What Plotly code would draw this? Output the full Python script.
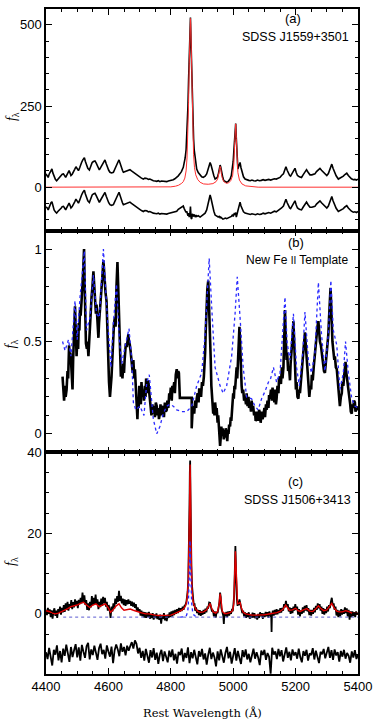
import plotly.graph_objects as go

# ---------------------------------------------------------------------------
# data: (rest wavelength [A], f_lambda)
# ---------------------------------------------------------------------------

# (a) SDSS J1559+3501 : spectrum, Hbeta/[OIII] model, residual (offset)
A_SPEC = [
    (4400, 41), (4404, 36), (4407, 30), (4410, 40), (4413, 46), (4416, 52), (4419, 56), (4422, 44),
    (4426, 30), (4430, 24), (4434, 20), (4438, 25), (4442, 28), (4445, 31), (4449, 36), (4452, 40),
    (4456, 41), (4460, 35), (4463, 30), (4467, 38), (4471, 46), (4474, 51), (4477, 44), (4480, 36),
    (4484, 40), (4488, 46), (4492, 55), (4496, 63), (4500, 58), (4504, 51), (4508, 60), (4511, 70),
    (4514, 76), (4518, 84), (4521, 90), (4523, 91), (4526, 80), (4530, 66), (4534, 58), (4539, 53),
    (4543, 63), (4548, 76), (4552, 79), (4557, 81), (4561, 74), (4565, 66), (4568, 58), (4571, 53),
    (4576, 62), (4581, 71), (4585, 78), (4589, 84), (4593, 72), (4597, 61), (4601, 52), (4605, 46),
    (4610, 44), (4616, 46), (4621, 55), (4626, 66), (4630, 76), (4634, 84), (4637, 74), (4641, 62),
    (4645, 52), (4648, 46), (4653, 48), (4659, 51), (4664, 52), (4669, 54), (4674, 50), (4680, 46),
    (4685, 40), (4691, 36), (4696, 33), (4701, 30), (4706, 28), (4712, 25), (4717, 28), (4723, 27),
    (4728, 24), (4733, 25), (4738, 22), (4744, 20), (4750, 19), (4755, 18), (4760, 20), (4765, 17),
    (4770, 19), (4776, 18), (4781, 16), (4787, 17), (4792, 19), (4797, 20), (4802, 22), (4808, 23),
    (4813, 26), (4819, 30), (4824, 35), (4829, 41), (4834, 48), (4840, 61), (4843, 72), (4846, 90),
    (4849, 115), (4851, 147), (4853, 190), (4855, 250), (4857, 330), (4859, 420), (4861, 493),
    (4863, 523), (4865, 440), (4867, 350), (4869, 260), (4871, 200), (4873, 150), (4875, 115),
    (4878, 86), (4881, 68), (4883, 56), (4888, 45), (4894, 36), (4899, 32), (4904, 30), (4910, 34),
    (4915, 41), (4919, 52), (4922, 65), (4926, 76), (4929, 68), (4932, 55), (4934, 46), (4938, 35),
    (4942, 25), (4946, 27), (4949, 30), (4952, 38), (4955, 52), (4958, 68), (4960, 62), (4963, 41),
    (4967, 28), (4970, 20), (4975, 17), (4979, 15), (4984, 18), (4990, 25), (4994, 36), (4997, 56),
    (5000, 80), (5002, 110), (5004, 147), (5006, 180), (5008, 196), (5010, 150), (5011, 117),
    (5013, 80), (5015, 56), (5018, 65), (5020, 74), (5022, 76), (5025, 60), (5029, 41), (5033, 32),
    (5038, 25), (5044, 22), (5050, 21), (5055, 20), (5060, 22), (5066, 20), (5072, 19), (5078, 22),
    (5084, 20), (5090, 21), (5096, 23), (5102, 21), (5108, 22), (5114, 24), (5120, 22), (5126, 24),
    (5132, 26), (5138, 25), (5144, 28), (5150, 30), (5155, 36), (5161, 41), (5165, 52), (5169, 63),
    (5173, 52), (5177, 41), (5181, 36), (5184, 34), (5188, 40), (5193, 50), (5198, 58), (5202, 45),
    (5206, 36), (5212, 32), (5219, 30), (5224, 38), (5230, 47), (5235, 54), (5240, 46), (5246, 38),
    (5252, 38), (5257, 40), (5262, 41), (5267, 48), (5272, 54), (5278, 58), (5283, 52), (5289, 46),
    (5294, 40), (5300, 36), (5305, 42), (5310, 55), (5313, 65), (5316, 71), (5320, 58), (5324, 46),
    (5330, 35), (5337, 25), (5342, 28), (5348, 30), (5353, 34), (5358, 39), (5364, 43), (5369, 36),
    (5374, 30), (5379, 26), (5385, 23), (5390, 24), (5395, 22), (5400, 25),
]

A_MODEL = [
    (4400, 0), (4780, 0), (4800, 1), (4815, 3), (4825, 6), (4835, 12), (4840, 17), (4845, 28),
    (4849, 50), (4852, 90), (4855, 170), (4857, 260), (4859, 380), (4861, 480), (4862, 515),
    (4863, 520), (4864, 500), (4866, 400), (4868, 280), (4870, 180), (4873, 100), (4876, 60),
    (4880, 38), (4886, 24), (4894, 15), (4905, 10), (4920, 9), (4935, 11), (4945, 17), (4950, 25),
    (4953, 36), (4956, 52), (4958, 64), (4960, 58), (4962, 42), (4965, 28), (4970, 17), (4978, 12),
    (4985, 13), (4992, 20), (4998, 35), (5002, 70), (5005, 140), (5007, 190), (5008, 195),
    (5010, 150), (5012, 90), (5015, 45), (5020, 22), (5028, 10), (5040, 4), (5060, 1), (5080, 0),
    (5400, 0),
]

A_RESID = [
    (4400, -61), (4404, -64), (4407, -70), (4410, -60), (4413, -54), (4416, -48), (4419, -45),
    (4422, -56), (4426, -70), (4430, -76), (4434, -80), (4438, -75), (4442, -72), (4445, -69),
    (4449, -64), (4452, -60), (4456, -59), (4460, -65), (4463, -70), (4467, -62), (4471, -54),
    (4474, -49), (4477, -56), (4480, -64), (4484, -60), (4488, -54), (4492, -45), (4496, -37),
    (4500, -42), (4504, -49), (4508, -40), (4511, -30), (4514, -24), (4518, -16), (4521, -10),
    (4523, -9), (4526, -20), (4530, -34), (4534, -42), (4539, -47), (4543, -37), (4548, -24),
    (4552, -21), (4557, -19), (4561, -26), (4565, -34), (4568, -42), (4571, -47), (4576, -38),
    (4581, -29), (4585, -22), (4589, -16), (4593, -28), (4597, -39), (4601, -48), (4605, -54),
    (4610, -56), (4616, -54), (4621, -45), (4626, -34), (4630, -24), (4634, -16), (4637, -26),
    (4641, -38), (4645, -48), (4648, -54), (4653, -52), (4659, -49), (4664, -48), (4669, -46),
    (4674, -50), (4680, -54), (4685, -60), (4691, -64), (4696, -67), (4701, -70), (4706, -72),
    (4712, -75), (4717, -72), (4723, -73), (4728, -76), (4733, -75), (4738, -78), (4744, -80),
    (4750, -81), (4755, -82), (4760, -80), (4765, -83), (4770, -81), (4776, -82), (4781, -84),
    (4787, -83), (4792, -81), (4797, -80), (4802, -79), (4808, -78), (4813, -76), (4819, -74),
    (4824, -68), (4829, -65), (4834, -62), (4840, -58), (4843, -66), (4846, -70), (4849, -78),
    (4851, -74), (4853, -86), (4855, -88), (4857, -80), (4859, -92), (4861, -85), (4863, -60),
    (4865, -95), (4867, -98), (4869, -82), (4871, -90), (4873, -88), (4875, -84), (4878, -92),
    (4881, -86), (4883, -90), (4888, -88), (4894, -92), (4899, -88), (4904, -84), (4910, -80),
    (4915, -70), (4919, -55), (4922, -38), (4926, -24), (4929, -35), (4932, -52), (4934, -62),
    (4938, -74), (4942, -86), (4946, -88), (4949, -90), (4952, -92), (4955, -90), (4958, -94),
    (4960, -92), (4963, -96), (4967, -98), (4970, -97), (4975, -95), (4979, -97), (4984, -95),
    (4990, -92), (4994, -90), (4997, -86), (5000, -90), (5002, -84), (5004, -80), (5006, -86),
    (5008, -78), (5010, -92), (5011, -88), (5013, -84), (5015, -72), (5018, -60), (5020, -50),
    (5022, -46), (5025, -58), (5029, -70), (5033, -76), (5038, -80), (5044, -82), (5050, -83),
    (5055, -84), (5060, -82), (5066, -84), (5072, -85), (5078, -82), (5084, -84), (5090, -83),
    (5096, -80), (5102, -82), (5108, -81), (5114, -78), (5120, -80), (5126, -77), (5132, -74),
    (5138, -76), (5144, -72), (5150, -70), (5155, -64), (5161, -58), (5165, -48), (5169, -37),
    (5173, -48), (5177, -59), (5181, -64), (5184, -66), (5188, -60), (5193, -50), (5198, -42),
    (5202, -55), (5206, -64), (5212, -68), (5219, -70), (5224, -62), (5230, -53), (5235, -46),
    (5240, -54), (5246, -62), (5252, -62), (5257, -60), (5262, -59), (5267, -52), (5272, -46),
    (5278, -42), (5283, -48), (5289, -54), (5294, -60), (5300, -64), (5305, -58), (5310, -45),
    (5313, -35), (5316, -29), (5320, -42), (5324, -54), (5330, -65), (5337, -75), (5342, -72),
    (5348, -70), (5353, -66), (5358, -61), (5364, -57), (5369, -64), (5374, -70), (5379, -74),
    (5385, -77), (5390, -76), (5395, -78), (5400, -75),
]

# (b) normalised Fe II emission (black) vs new Fe II template (blue dotted)
B_FEII = [
    (4453, 0.31), (4455, 0.22), (4458, 0.18), (4461, 0.26), (4463, 0.20), (4466, 0.24), (4469, 0.34),
    (4471, 0.30), (4474, 0.48), (4476, 0.40), (4478, 0.44), (4480, 0.40), (4482, 0.30), (4485, 0.24),
    (4487, 0.40), (4489, 0.52), (4491, 0.62), (4493, 0.69), (4495, 0.58), (4498, 0.42), (4500, 0.50),
    (4503, 0.46), (4505, 0.60), (4507, 0.56), (4509, 0.67), (4511, 0.64), (4514, 0.72), (4516, 0.76),
    (4518, 0.84), (4520, 0.92), (4522, 1.00), (4524, 0.80), (4526, 0.60), (4528, 0.49), (4531, 0.46),
    (4533, 0.50), (4536, 0.42), (4538, 0.50), (4540, 0.56), (4543, 0.61), (4546, 0.74), (4549, 0.80),
    (4552, 0.88), (4554, 0.82), (4557, 0.74), (4560, 0.65), (4562, 0.70), (4565, 0.56), (4568, 0.52),
    (4570, 0.60), (4573, 0.66), (4575, 0.72), (4578, 0.80), (4581, 0.86), (4584, 0.94), (4586, 0.88),
    (4589, 0.80), (4591, 0.76), (4594, 0.72), (4596, 0.60), (4598, 0.46), (4600, 0.36), (4602, 0.28),
    (4605, 0.20), (4607, 0.24), (4610, 0.31), (4613, 0.42), (4616, 0.54), (4618, 0.60), (4621, 0.63),
    (4623, 0.58), (4626, 0.80), (4629, 0.93), (4631, 0.82), (4633, 0.70), (4635, 0.60), (4637, 0.46),
    (4640, 0.31), (4642, 0.36), (4645, 0.30), (4648, 0.38), (4650, 0.33), (4652, 0.40), (4654, 0.45),
    (4656, 0.49), (4659, 0.47), (4661, 0.52), (4664, 0.54), (4666, 0.50), (4668, 0.49), (4671, 0.45),
    (4673, 0.40), (4676, 0.36), (4678, 0.33), (4680, 0.40), (4683, 0.30), (4685, 0.35), (4687, 0.27),
    (4690, 0.20), (4693, 0.08), (4695, 0.18), (4697, 0.14), (4699, 0.26), (4701, 0.22), (4704, 0.16),
    (4706, 0.28), (4709, 0.20), (4712, 0.24), (4714, 0.18), (4717, 0.26), (4719, 0.20), (4721, 0.30),
    (4723, 0.28), (4726, 0.22), (4728, 0.29), (4730, 0.24), (4733, 0.18), (4735, 0.15), (4738, 0.10),
    (4741, 0.16), (4744, 0.11), (4746, 0.15), (4749, 0.09), (4752, 0.17), (4755, 0.15), (4757, 0.10),
    (4760, 0.14), (4762, 0.08), (4765, 0.11), (4767, 0.16), (4770, 0.10), (4773, 0.14), (4776, 0.15),
    (4778, 0.09), (4781, 0.17), (4784, 0.12), (4787, 0.13), (4789, 0.18), (4792, 0.14), (4795, 0.22),
    (4797, 0.19), (4800, 0.25), (4803, 0.18), (4805, 0.26), (4808, 0.24), (4811, 0.28), (4813, 0.22),
    (4816, 0.32), (4819, 0.35), (4822, 0.30), (4824, 0.34), (4826, 0.33), (4828, 0.26), (4829, 0.195),
    (4867, 0.195), (4867, 0.03), (4869, 0.10), (4872, 0.15), (4875, 0.11), (4878, 0.18), (4881, 0.14),
    (4883, 0.19), (4886, 0.22), (4889, 0.17), (4891, 0.24), (4894, 0.24), (4897, 0.20), (4900, 0.28),
    (4903, 0.26), (4906, 0.31), (4908, 0.36), (4910, 0.44), (4912, 0.56), (4915, 0.72), (4917, 0.78),
    (4920, 0.83), (4922, 0.74), (4924, 0.62), (4926, 0.54), (4928, 0.40), (4930, 0.26), (4932, 0.18),
    (4934, 0.14), (4936, 0.11), (4938, 0.16), (4940, 0.10), (4942, 0.17), (4945, 0.12), (4947, 0.14),
    (4950, 0.06), (4952, 0.10), (4954, 0.02), (4956, 0.00), (4958, -0.065), (4960, -0.02), (4962, 0.04),
    (4964, -0.01), (4966, 0.03), (4968, 0.007), (4970, -0.03), (4972, 0.02), (4974, -0.02), (4976, 0.03),
    (4979, 0.007), (4981, -0.04), (4983, 0.02), (4985, 0.00), (4987, 0.05), (4990, 0.04), (4992, 0.09),
    (4994, 0.07), (4996, 0.14), (4998, 0.18), (5000, 0.22), (5002, 0.19), (5004, 0.26), (5006, 0.24),
    (5009, 0.32), (5011, 0.36), (5013, 0.30), (5015, 0.40), (5017, 0.50), (5020, 0.58), (5022, 0.50),
    (5024, 0.36), (5027, 0.26), (5029, 0.22), (5032, 0.24), (5035, 0.18), (5038, 0.20), (5041, 0.16),
    (5043, 0.22), (5046, 0.15), (5049, 0.20), (5051, 0.14), (5054, 0.17), (5057, 0.12), (5059, 0.18),
    (5062, 0.13), (5064, 0.15), (5067, 0.10), (5070, 0.12), (5072, 0.07), (5075, 0.08), (5078, 0.12),
    (5080, 0.07), (5083, 0.13), (5086, 0.11), (5088, 0.06), (5091, 0.12), (5094, 0.08), (5097, 0.10),
    (5100, 0.14), (5102, 0.09), (5105, 0.16), (5107, 0.13), (5110, 0.18), (5113, 0.14), (5115, 0.21),
    (5118, 0.19), (5121, 0.24), (5124, 0.18), (5126, 0.25), (5129, 0.22), (5132, 0.17), (5134, 0.24),
    (5137, 0.16), (5139, 0.19), (5142, 0.26), (5145, 0.22), (5147, 0.30), (5150, 0.31), (5153, 0.27),
    (5156, 0.36), (5158, 0.30), (5161, 0.36), (5163, 0.50), (5166, 0.67), (5168, 0.55), (5171, 0.40),
    (5173, 0.44), (5176, 0.34), (5179, 0.36), (5182, 0.29), (5184, 0.38), (5187, 0.44), (5190, 0.52),
    (5193, 0.61), (5195, 0.50), (5198, 0.36), (5201, 0.24), (5203, 0.28), (5206, 0.20), (5209, 0.19),
    (5211, 0.24), (5214, 0.22), (5217, 0.28), (5219, 0.31), (5222, 0.38), (5225, 0.44), (5227, 0.50),
    (5230, 0.55), (5232, 0.50), (5235, 0.42), (5238, 0.36), (5240, 0.30), (5242, 0.24), (5244, 0.20),
    (5247, 0.26), (5250, 0.24), (5252, 0.32), (5255, 0.29), (5258, 0.36), (5260, 0.40), (5262, 0.45),
    (5265, 0.52), (5268, 0.56), (5270, 0.58), (5273, 0.61), (5275, 0.56), (5278, 0.50), (5281, 0.48),
    (5283, 0.45), (5286, 0.40), (5289, 0.36), (5291, 0.34), (5294, 0.33), (5297, 0.38), (5300, 0.44),
    (5302, 0.48), (5305, 0.54), (5307, 0.62), (5309, 0.70), (5312, 0.79), (5314, 0.70), (5316, 0.58),
    (5318, 0.50), (5321, 0.45), (5324, 0.40), (5326, 0.42), (5329, 0.36), (5332, 0.35), (5334, 0.30),
    (5337, 0.24), (5340, 0.18), (5342, 0.15), (5345, 0.20), (5348, 0.22), (5350, 0.28), (5353, 0.26),
    (5355, 0.30), (5358, 0.36), (5360, 0.39), (5362, 0.34), (5365, 0.30), (5367, 0.28), (5369, 0.26),
    (5372, 0.20), (5375, 0.16), (5377, 0.12), (5380, 0.11), (5382, 0.16), (5385, 0.14), (5387, 0.18),
    (5390, 0.17), (5392, 0.12), (5395, 0.15), (5397, 0.13), (5400, 0.14),
]

B_TEMPLATE = [
    (4453, 0.50), (4461, 0.45), (4472, 0.51), (4480, 0.42), (4493, 0.72), (4500, 0.51), (4509, 0.74),
    (4518, 0.90), (4523, 0.99), (4530, 0.56), (4541, 0.63), (4552, 0.86), (4562, 0.65), (4571, 0.63),
    (4584, 1.00), (4594, 0.70), (4608, 0.36), (4616, 0.60), (4626, 0.81), (4635, 0.51), (4643, 0.38),
    (4653, 0.47), (4666, 0.57), (4675, 0.40), (4680, 0.17), (4688, 0.13), (4701, 0.15), (4714, 0.10),
    (4723, 0.28), (4731, 0.32), (4739, 0.19), (4744, 0.08), (4755, 0.00), (4765, 0.04), (4776, 0.11),
    (4787, 0.15), (4797, 0.16), (4808, 0.15), (4819, 0.13), (4835, 0.12), (4851, 0.12), (4867, 0.15),
    (4883, 0.26), (4899, 0.33), (4910, 0.54), (4917, 0.81), (4923, 0.95), (4931, 0.69), (4942, 0.36),
    (4958, 0.26), (4968, 0.22), (4979, 0.26), (4995, 0.42), (5006, 0.65), (5013, 0.85), (5022, 0.63),
    (5032, 0.36), (5043, 0.20), (5059, 0.19), (5070, 0.15), (5080, 0.13), (5091, 0.19), (5102, 0.23),
    (5113, 0.28), (5120, 0.30), (5129, 0.36), (5139, 0.28), (5150, 0.33), (5158, 0.54), (5166, 0.74),
    (5173, 0.49), (5182, 0.40), (5193, 0.65), (5203, 0.36), (5212, 0.26), (5223, 0.44), (5230, 0.66),
    (5241, 0.40), (5251, 0.33), (5262, 0.44), (5273, 0.82), (5283, 0.54), (5294, 0.34), (5305, 0.54),
    (5313, 0.83), (5321, 0.56), (5332, 0.48), (5342, 0.24), (5353, 0.33), (5360, 0.50), (5369, 0.33),
    (5380, 0.19), (5390, 0.15), (5400, 0.14),
]

# (c) SDSS J1506+3413 : spectrum, full model, Hbeta component, residual (offset)
C_SPEC = [
    (4400, 1.0), (4403, -0.3), (4406, 1.5), (4409, 0.2), (4412, 1.1), (4415, -0.8), (4418, 0.9),
    (4421, -1.2), (4424, 0.6), (4427, 1.4), (4430, -0.5), (4433, 0.8), (4436, -1.0), (4439, 1.2),
    (4442, 0.3), (4445, 1.8), (4448, -0.2), (4451, 1.5), (4454, 0.4), (4457, 2.2), (4460, 0.5),
    (4463, 2.6), (4466, 1.0), (4469, 3.0), (4472, 0.8), (4475, 2.4), (4478, 1.5), (4481, 3.4),
    (4484, 1.2), (4487, 2.9), (4490, 1.6), (4493, 3.6), (4496, 2.0), (4499, 3.2), (4502, 1.4),
    (4505, 3.5), (4508, 2.4), (4511, 4.0), (4514, 2.6), (4517, 5.3), (4520, 3.0), (4523, 4.6),
    (4526, 2.2), (4529, 3.4), (4532, 1.0), (4535, 2.6), (4538, 0.9), (4541, 3.0), (4544, 1.6),
    (4547, 4.4), (4550, 2.2), (4553, 4.0), (4556, 2.5), (4559, 4.8), (4562, 2.3), (4565, 3.6),
    (4568, 1.2), (4571, 3.0), (4574, 1.7), (4577, 3.8), (4580, 2.0), (4583, 4.2), (4586, 2.6),
    (4589, 4.0), (4592, 1.8), (4595, 3.0), (4598, 0.8), (4601, 2.2), (4604, 1.0), (4607, -1.0),
    (4610, 1.8), (4613, 0.6), (4616, 2.6), (4619, 1.3), (4622, 3.8), (4625, 2.5), (4628, 4.4),
    (4631, 3.0), (4634, 5.7), (4637, 3.2), (4640, 4.5), (4643, 2.6), (4646, 3.8), (4649, 2.2),
    (4652, 3.6), (4655, 2.0), (4658, 3.4), (4661, 2.4), (4664, 3.6), (4667, 2.5), (4670, 3.2),
    (4673, 2.0), (4676, 3.0), (4679, 1.8), (4682, 2.8), (4685, 1.5), (4688, 2.4), (4691, 0.8),
    (4694, 1.6), (4697, 0.6), (4700, 1.2), (4703, -0.4), (4706, 0.8), (4709, -0.6), (4712, 0.5),
    (4715, -0.9), (4718, 0.4), (4721, -1.0), (4724, 0.3), (4727, -0.8), (4730, 0.5), (4733, -1.2),
    (4736, 0.0), (4739, -1.0), (4742, 0.2), (4745, -1.4), (4748, -0.2), (4751, -1.0), (4754, 0.1),
    (4757, -1.3), (4760, -0.3), (4763, -1.5), (4766, -0.2), (4769, -2.4), (4772, -0.6), (4775, -1.2),
    (4778, 0.2), (4781, -1.6), (4784, -0.4), (4787, -1.8), (4790, -0.2), (4793, -1.0), (4796, 0.4),
    (4799, -0.8), (4802, 0.6), (4805, -0.6), (4808, 0.8), (4811, -0.3), (4814, 1.0), (4817, 0.0),
    (4820, 1.2), (4823, 0.2), (4826, 1.5), (4829, 0.5), (4832, 1.4), (4835, 0.7), (4838, 1.8),
    (4841, 1.0), (4844, 2.0), (4847, 2.2), (4850, 3.0), (4852, 4.0), (4854, 5.5), (4856, 8.5),
    (4858, 15), (4859, 20), (4860, 27), (4861, 35), (4862, 38), (4863, 30), (4864, 21), (4865, 15),
    (4866, 12), (4868, 7), (4870, 4), (4872, 3.5), (4874, 2.0), (4876, 2.6), (4878, 0.8), (4881, 1.6),
    (4884, 0.2), (4887, 1.0), (4890, -0.3), (4893, 0.9), (4896, -0.5), (4899, 0.7), (4902, -0.2),
    (4905, 1.0), (4908, 0.0), (4911, 1.3), (4914, 0.4), (4917, 1.6), (4920, 1.5), (4923, 2.8),
    (4926, 2.7), (4929, 1.4), (4932, 0.6), (4935, 1.0), (4938, -0.6), (4941, 0.6), (4944, -0.9),
    (4947, 0.5), (4950, 0.2), (4953, 1.5), (4956, 3.0), (4958, 5.3), (4960, 4.2), (4962, 1.5),
    (4965, 0.4), (4968, -0.4), (4970, -2.5), (4972, 0.3), (4975, -0.6), (4978, 0.5), (4981, -0.8),
    (4984, 0.6), (4987, -0.4), (4990, 0.7), (4993, 0.0), (4996, 1.0), (4999, 0.9), (5001, 2.2),
    (5003, 4.5), (5005, 10), (5006, 14), (5007, 16.8), (5008, 14), (5009, 10), (5010, 6), (5012, 3.5),
    (5014, 2.0), (5016, 3.2), (5018, 2.2), (5020, 3.6), (5022, 2.9), (5024, 2.0), (5026, 1.2),
    (5029, 0.2), (5032, 0.8), (5035, -0.6), (5038, 0.4), (5041, -1.0), (5044, 0.2), (5047, -0.8),
    (5050, 0.4), (5053, -1.2), (5056, -0.2), (5059, -1.0), (5062, 0.3), (5065, -0.9), (5068, 0.2),
    (5071, -1.1), (5074, -0.3), (5077, -1.4), (5080, 0.0), (5083, -1.0), (5086, 0.4), (5089, -0.6),
    (5092, 0.2), (5095, -1.2), (5098, 0.1), (5101, -0.8), (5104, 0.5), (5107, -0.6), (5110, 0.4),
    (5113, -0.9), (5116, 0.6), (5119, -0.4), (5122, -0.9), (5123, -4.5), (5124, -0.5), (5127, 0.8),
    (5130, -0.4), (5133, 1.0), (5136, -0.2), (5139, 1.2), (5142, -0.1), (5145, 1.0), (5148, 0.2),
    (5151, 1.4), (5154, 0.3), (5157, 1.5), (5160, 0.8), (5163, 2.4), (5166, 1.6), (5169, 3.2),
    (5172, 1.8), (5175, 2.4), (5178, 0.6), (5181, 1.6), (5184, 0.0), (5187, 1.4), (5190, 0.2),
    (5193, 1.8), (5196, 0.8), (5199, 2.4), (5202, 1.0), (5205, 1.8), (5208, -0.2), (5211, 1.2),
    (5214, -0.6), (5217, 0.9), (5220, 0.0), (5223, 1.6), (5226, 0.3), (5229, 2.0), (5232, 0.8),
    (5235, 2.2), (5238, 0.6), (5241, 1.4), (5244, -0.3), (5247, 1.0), (5250, -0.4), (5253, 1.0),
    (5256, 0.0), (5259, 1.5), (5262, 0.4), (5265, 2.0), (5268, 1.0), (5271, 2.6), (5274, 1.4),
    (5277, 2.4), (5280, 0.8), (5283, 1.8), (5286, 0.0), (5289, 1.4), (5292, -0.2), (5295, 1.2),
    (5298, 0.2), (5301, 1.8), (5304, 0.6), (5307, 2.2), (5310, 1.4), (5313, 3.0), (5316, 4.0),
    (5319, 2.2), (5322, 2.6), (5325, 1.0), (5328, 1.8), (5331, -0.4), (5334, 1.0), (5337, -0.8),
    (5340, 0.8), (5343, -0.6), (5346, 1.2), (5349, -0.2), (5352, 1.0), (5355, 0.0), (5358, 1.6),
    (5361, 0.2), (5364, 1.4), (5367, -0.6), (5370, 1.0), (5373, -1.4), (5376, 0.6), (5379, -0.8),
    (5382, 0.6), (5385, -0.5), (5388, 0.4), (5391, -0.8), (5394, 0.6), (5397, -0.2), (5400, 0.3),
]

C_MODEL = [
    (4400, 0.8), (4410, 0.6), (4420, 0.2), (4430, 0.0), (4440, 0.2), (4450, 0.5), (4460, 0.8),
    (4470, 1.3), (4480, 1.8), (4490, 2.0), (4500, 2.2), (4510, 2.6), (4520, 2.9), (4530, 2.2),
    (4540, 1.6), (4550, 2.2), (4560, 2.5), (4570, 1.8), (4580, 2.2), (4590, 2.5), (4600, 1.5),
    (4607, 0.4), (4615, 1.0), (4625, 2.0), (4634, 2.5), (4642, 1.5), (4650, 0.9), (4660, 1.0),
    (4670, 1.2), (4680, 0.9), (4690, 0.6), (4700, 0.4), (4710, 0.2), (4720, 0.0), (4730, 0.0),
    (4740, -0.2), (4750, -0.3), (4760, -0.4), (4770, -0.4), (4780, -0.4), (4790, -0.4), (4800, -0.3),
    (4810, 0.0), (4820, 0.3), (4830, 0.7), (4840, 1.2), (4846, 1.8), (4850, 2.8), (4853, 4.5),
    (4856, 8), (4858, 14), (4860, 26), (4861, 34), (4862, 37), (4863, 32), (4864, 22), (4866, 12),
    (4868, 6), (4871, 3.2), (4875, 2.0), (4880, 1.2), (4886, 0.7), (4894, 0.4), (4905, 0.5),
    (4915, 1.0), (4922, 2.0), (4926, 2.6), (4930, 1.6), (4936, 0.5), (4944, 0.2), (4950, 0.6),
    (4955, 2.5), (4958, 5.0), (4961, 3.5), (4965, 0.6), (4972, 0.1), (4980, 0.1), (4990, 0.3),
    (4998, 0.8), (5002, 2.5), (5005, 9), (5007, 15.5), (5009, 12), (5011, 5), (5014, 2.5),
    (5018, 2.6), (5022, 2.9), (5026, 1.5), (5032, 0.4), (5040, 0.0), (5050, -0.2), (5060, -0.3),
    (5070, -0.3), (5080, -0.3), (5090, -0.2), (5100, -0.2), (5110, -0.1), (5120, 0.0), (5130, 0.1),
    (5140, 0.3), (5150, 0.6), (5160, 1.2), (5168, 2.2), (5174, 1.6), (5180, 0.9), (5190, 1.0),
    (5200, 1.4), (5208, 0.8), (5215, 0.6), (5225, 1.0), (5236, 1.3), (5245, 0.7), (5255, 0.6),
    (5265, 1.3), (5273, 2.0), (5280, 1.4), (5290, 0.8), (5300, 1.0), (5308, 1.8), (5316, 2.6),
    (5324, 1.4), (5332, 0.7), (5340, 0.5), (5350, 0.5), (5360, 0.8), (5370, 0.6), (5380, 0.2),
    (5390, 0.1), (5400, 0.1),
]

C_HBETA = [
    (4830, -0.8), (4845, -0.7), (4850, -0.4), (4854, 0.5), (4856, 2.0), (4858, 5.0), (4859.5, 10),
    (4860.5, 15), (4861.5, 18.2), (4862.5, 16), (4863.5, 11), (4865, 6), (4867, 2.5), (4870, 0.5),
    (4875, -0.4), (4890, -0.8),
]
C_BASE = [(4455, -0.8), (5400, -0.8)]

# residual of (c), one value every 5 A from 4400 to 5400
C_RESID_WAVE = list(range(4400, 5401, 5))
C_RESID = [
    -9.5, -11.2, -8.4, -10.6, -12.8, -8.9, -10.1, -7.8, -11.5, -9.2, -12.0, -8.6, -10.4, -7.6, -9.8, -11.9, -8.2, -10.7, -9.0, -7.5,
    -10.8, -8.3, -11.6, -7.7, -9.4, -10.9, -8.0, -7.2, -11.3, -8.8, -10.2, -7.9, -9.6, -11.4, -8.5, -7.4, -10.0, -8.9, -11.1, -7.8,
    -9.3, -10.6, -8.1, -12.2, -9.0, -7.6, -8.8, -10.5, -7.3, -9.4, -8.2, -10.3, -7.9, -9.1, -8.0, -7.0, -8.6, -6.6, -7.4, -9.8,
    -8.4, -10.9, -9.2, -11.6, -8.7, -10.4, -12.1, -9.0, -10.8, -8.5, -11.4, -9.6, -12.4, -10.0, -8.9, -11.7, -9.3, -10.6, -12.0, -9.1,
    -10.7, -8.8, -11.5, -9.9, -12.3, -9.4, -10.2, -8.6, -11.8, -9.7, -10.9, -8.3, -12.2, -9.5, -11.0, -8.9, -10.4, -12.5, -9.2, -10.6,
    -8.7, -11.3, -9.8, -12.6, -10.1, -8.4, -11.2, -9.6, -10.8, -13.0, -9.3, -11.5, -8.8, -10.5, -12.1, -9.7, -8.2, -11.0, -9.4, -12.3,
    -10.0, -8.5, -11.6, -9.2, -10.9, -12.4, -9.0, -10.7, -8.8, -11.3, -9.9, -12.0, -10.3, -8.6, -11.1, -9.5, -10.8, -12.7, -9.1, -10.2,
    -8.9, -11.4, -9.7, -10.6, -14.8, -8.4, -10.1, -9.3, -11.2, -8.7, -10.5, -9.0, -11.8, -9.6, -8.3, -10.9, -9.4, -11.5, -8.8, -10.3,
    -9.5, -11.1, -8.6, -10.7, -12.0, -9.2, -10.4, -8.9, -11.6, -9.8, -10.2, -8.5, -11.3, -9.1, -10.8, -12.2, -9.4, -10.0, -8.7, -11.0,
    -9.6, -8.2, -10.9, -9.0, -11.4, -8.8, -10.3, -9.5, -11.8, -9.2, -10.6, -8.9, -11.1, -9.7, -10.4, -12.1, -9.3, -10.8, -9.0, -11.2,
    -10.1,
]

X_RANGE = [4400, 5400]
X_TICKS = [4400, 4600, 4800, 5000, 5200, 5400]


def xy(pairs):
    return [p[0] for p in pairs], [p[1] for p in pairs]


def line(pairs, ax, color="black", width=1.4, dash="solid"):
    x, y = xy(pairs)
    return go.Scatter(x=x, y=y, mode="lines", xaxis="x" + ax, yaxis="y" + ax,
                      line=dict(color=color, width=width, dash=dash),
                      hoverinfo="skip", showlegend=False)


fig = go.Figure()

# ---- panel (a): top, axes x3/y3 ----
fig.add_trace(line(A_SPEC, "3", width=1.6))
fig.add_trace(line(A_MODEL, "3", color="#ff3030", width=1.0))
fig.add_trace(line(A_RESID, "3", width=1.6))

# ---- panel (b): middle, axes x2/y2 ----
fig.add_trace(line(B_FEII, "2", width=2.6))
fig.add_trace(line(B_TEMPLATE, "2", color="#2a2aff", width=1.3, dash="dot"))

# ---- panel (c): bottom, axes x/y ----
fig.add_trace(line(C_SPEC, "", width=1.8))
fig.add_trace(line(C_MODEL, "", color="#e00000", width=1.4))
fig.add_trace(line(C_BASE, "", color="#5a5ad0", width=1.0, dash="dot"))
fig.add_trace(line(C_HBETA, "", color="#2a2aff", width=1.3, dash="dot"))
fig.add_trace(go.Scatter(x=C_RESID_WAVE, y=C_RESID, mode="lines", line=dict(color="black", width=1.8),
                         hoverinfo="skip", showlegend=False))

tick_font = dict(family="Liberation Sans, Arial, sans-serif", size=13, color="black")
frame = dict(showline=True, linecolor="black", linewidth=1.5, mirror="allticks",
             ticks="inside", ticklen=6, tickwidth=1, tickcolor="black",
             showgrid=False, zeroline=False, tickfont=tick_font)


def xaxis(anchor, labels):
    return dict(frame, anchor=anchor, range=X_RANGE, tickmode="array", tickvals=X_TICKS,
                showticklabels=labels,
                minor=dict(dtick=50, tick0=4400, ticks="inside", ticklen=3.5, tickwidth=1,
                           tickcolor="black"))


def yaxis(domain, rng, dtick, minor):
    return dict(frame, domain=domain, range=rng, dtick=dtick, tick0=0,
                minor=dict(dtick=minor, ticks="inside", ticklen=3.5, tickwidth=1,
                           tickcolor="black"))


fig.update_layout(
    width=374, height=720,
    margin=dict(l=46, r=16, t=2, b=46),
    paper_bgcolor="white", plot_bgcolor="white",
    xaxis=xaxis("y", True),
    xaxis2=xaxis("y2", False),
    xaxis3=xaxis("y3", False),
    yaxis=dict(yaxis([0, 1 / 3], [-14.9, 40.05], 20, 5), anchor="x"),
    yaxis2=dict(yaxis([1 / 3, 2 / 3], [-0.1, 1.1], 0.5, 0.1), anchor="x2"),
    yaxis3=dict(yaxis([2 / 3, 1], [-134, 549], 250, 50), anchor="x3"),
    showlegend=False,
)

label_font = dict(family="Liberation Sans, Arial, sans-serif", color="black")
notes = [
    ("(a)", 0.792, 0.985, 13),
    ("SDSS J1559+3501", 0.800, 0.958, 12.5),
    ("(b)", 0.800, 0.649, 13),
    ("New Fe <span style='font-size:10px'>II</span> Template", 0.805, 0.623, 12),
    ("(c)", 0.800, 0.290, 13),
    ("SDSS J1506+3413", 0.805, 0.262, 12.5),
]
for text, x, y, size in notes:
    fig.add_annotation(text=text, xref="paper", yref="paper", x=x, y=y, showarrow=False,
                       xanchor="center", yanchor="middle", font=dict(label_font, size=size))

# f_lambda labels, one per panel
for y in (0.839, 0.497, 0.170):
    fig.add_annotation(text="<i>f</i><sub>λ</sub>", xref="paper", yref="paper", x=-0.109, y=y,
                       showarrow=False, textangle=-90, xanchor="center", yanchor="middle",
                       font=dict(family="Liberation Serif, Times New Roman, serif", size=14,
                                 color="black"))

fig.add_annotation(text="Rest Wavelength (Å)", xref="paper", yref="paper", x=0.5, y=-0.058,
                   showarrow=False, xanchor="center", yanchor="middle",
                   font=dict(family="DejaVu Serif, serif", size=11.5, color="black"))

# the page body has a default 8px margin; drop it so the 374x720 figure fills the window
fig.write_html("out.html", config={"displayModeBar": False},
               post_script="document.body.style.margin='0';")
